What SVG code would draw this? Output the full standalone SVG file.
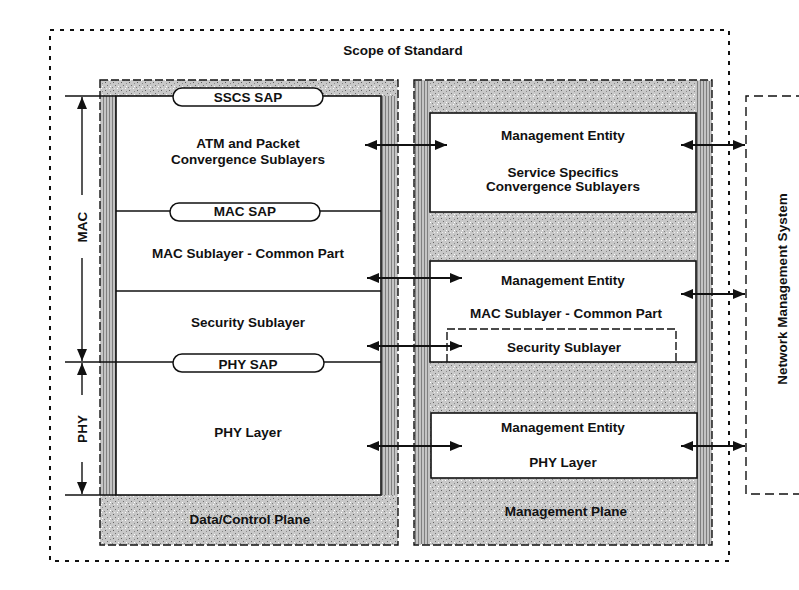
<svg xmlns="http://www.w3.org/2000/svg" width="799" height="590" viewBox="0 0 799 590">
<defs>
<style>
text{font-family:"Liberation Sans",Arial,Helvetica,sans-serif;font-size:13.5px;font-weight:bold;fill:#111;text-anchor:middle}
.box{fill:#fff;stroke:#111;stroke-width:1.6}
.plane{stroke:#111;stroke-width:1.4;stroke-dasharray:8 3}
.ln{stroke:#111;stroke-width:1.6;fill:none}
.dim{stroke:#111;stroke-width:1.4;fill:none;marker-end:url(#ah)}
.con{stroke:#111;stroke-width:1.8;fill:none;marker-start:url(#ah);marker-end:url(#ah)}
.pill{fill:#fff;stroke:#111;stroke-width:1.5}
</style>
<marker id="ah" viewBox="0 0 12 10" refX="12" refY="5" markerWidth="12" markerHeight="10" markerUnits="userSpaceOnUse" orient="auto-start-reverse"><path d="M0,0 L12,5 L0,10 z" fill="#111"/></marker>
<pattern id="stip" width="8" height="8" patternUnits="userSpaceOnUse">
<rect width="8" height="8" fill="#c8c8c8"/>
<rect x="1" y="2" width="1" height="1" fill="#5f5f5f"/>
<rect x="5" y="0" width="1" height="1" fill="#fff"/>
<rect x="3" y="5" width="1" height="1" fill="#707070"/>
<rect x="6" y="6" width="1" height="1" fill="#fff"/>
<rect x="0" y="7" width="1" height="1" fill="#808080"/>
<rect x="6" y="3" width="1" height="1" fill="#8a8a8a"/>
<rect x="2" y="0" width="1" height="1" fill="#e8e8e8"/>
</pattern>
<pattern id="hatch" width="3" height="3" patternUnits="userSpaceOnUse">
<rect width="3" height="3" fill="#c4c4c4"/>
<rect x="1" width="1" height="3" fill="#7f7f7f"/>
</pattern>
</defs>
<rect width="799" height="590" fill="#fff"/>

<g id="scope">
<rect x="50" y="30" width="679" height="531" fill="none" stroke="#111" stroke-width="2" stroke-dasharray="4 6"/>
<text x="403" y="55">Scope of Standard</text>
</g>

<g id="data-plane">
<rect class="plane" x="100" y="80" width="298" height="465" fill="url(#stip)"/>
<rect x="101" y="96" width="15" height="399" fill="url(#hatch)"/>
<rect x="381" y="96" width="16" height="399" fill="url(#hatch)"/>
<text x="250" y="524">Data/Control Plane</text>
</g>

<g id="mgmt-plane">
<rect class="plane" x="414" y="80" width="298" height="465" fill="url(#stip)"/>
<rect x="415" y="81" width="15" height="463" fill="url(#hatch)"/>
<rect x="696" y="81" width="15" height="463" fill="url(#hatch)"/>
<text x="566" y="516">Management Plane</text>
</g>

<g id="data-stack">
<rect class="box" x="116" y="96" width="265" height="399"/>
<line class="ln" x1="116" y1="211" x2="381" y2="211"/>
<line class="ln" x1="116" y1="291" x2="381" y2="291"/>
<line class="ln" x1="65" y1="96" x2="116" y2="96"/>
<line class="ln" x1="65" y1="362" x2="381" y2="362"/>
<line class="ln" x1="65" y1="495" x2="116" y2="495"/>
</g>

<g id="cs-layer"><text x="248" y="148">ATM and Packet</text><text x="248" y="164">Convergence Sublayers</text></g>
<g id="mac-cps"><text x="248" y="258">MAC Sublayer - Common Part</text></g>
<g id="security"><text x="248" y="327">Security Sublayer</text></g>
<g id="phy-layer"><text x="248" y="437">PHY Layer</text></g>

<g id="sscs-sap"><rect class="pill" x="173" y="88" width="150" height="18" rx="9"/><text x="248" y="102">SSCS SAP</text></g>
<g id="mac-sap"><rect class="pill" x="170" y="203" width="150" height="18" rx="9"/><text x="245" y="216">MAC SAP</text></g>
<g id="phy-sap"><rect class="pill" x="173" y="354" width="151" height="18" rx="9"/><text x="248" y="369">PHY SAP</text></g>

<g id="mac-dim">
<path class="dim" d="M82,195 V97"/>
<path class="dim" d="M82,258 V361"/>
<text transform="translate(87,227) rotate(-90)">MAC</text>
</g>
<g id="phy-dim">
<path class="dim" d="M82,395 V363"/>
<path class="dim" d="M82,462 V494"/>
<text transform="translate(87,429) rotate(-90)">PHY</text>
</g>

<g id="me-cs">
<rect class="box" x="430" y="113" width="266" height="99"/>
<text x="563" y="140">Management Entity</text>
<text x="563" y="177">Service Specifics</text>
<text x="563" y="191">Convergence Sublayers</text>
</g>
<g id="me-mac">
<rect class="box" x="430" y="261" width="266" height="101"/>
<text x="563" y="285">Management Entity</text>
<text x="566" y="318">MAC Sublayer - Common Part</text>
<path d="M447,362 V329 H676 V362" fill="none" stroke="#111" stroke-width="1.4" stroke-dasharray="8 3"/>
<text x="564" y="352">Security Sublayer</text>
</g>
<g id="me-phy">
<rect class="box" x="431" y="413" width="266" height="65"/>
<text x="563" y="432">Management Entity</text>
<text x="563" y="467">PHY Layer</text>
</g>

<g id="nms">
<path d="M805,96 H746 V494 H805" fill="none" stroke="#111" stroke-width="1.4" stroke-dasharray="9 5"/>
<text transform="translate(787,289) rotate(-90)">Network Management System</text>
</g>

<g id="connectors">
<line class="con" x1="365" y1="145" x2="447" y2="145"/>
<line class="con" x1="367" y1="278" x2="462" y2="278"/>
<line class="con" x1="367" y1="346" x2="462" y2="346"/>
<line class="con" x1="367" y1="446" x2="462" y2="446"/>
<line class="con" x1="681" y1="145" x2="745" y2="145"/>
<line class="con" x1="681" y1="294" x2="745" y2="294"/>
<line class="con" x1="681" y1="446" x2="745" y2="446"/>
</g>
</svg>
